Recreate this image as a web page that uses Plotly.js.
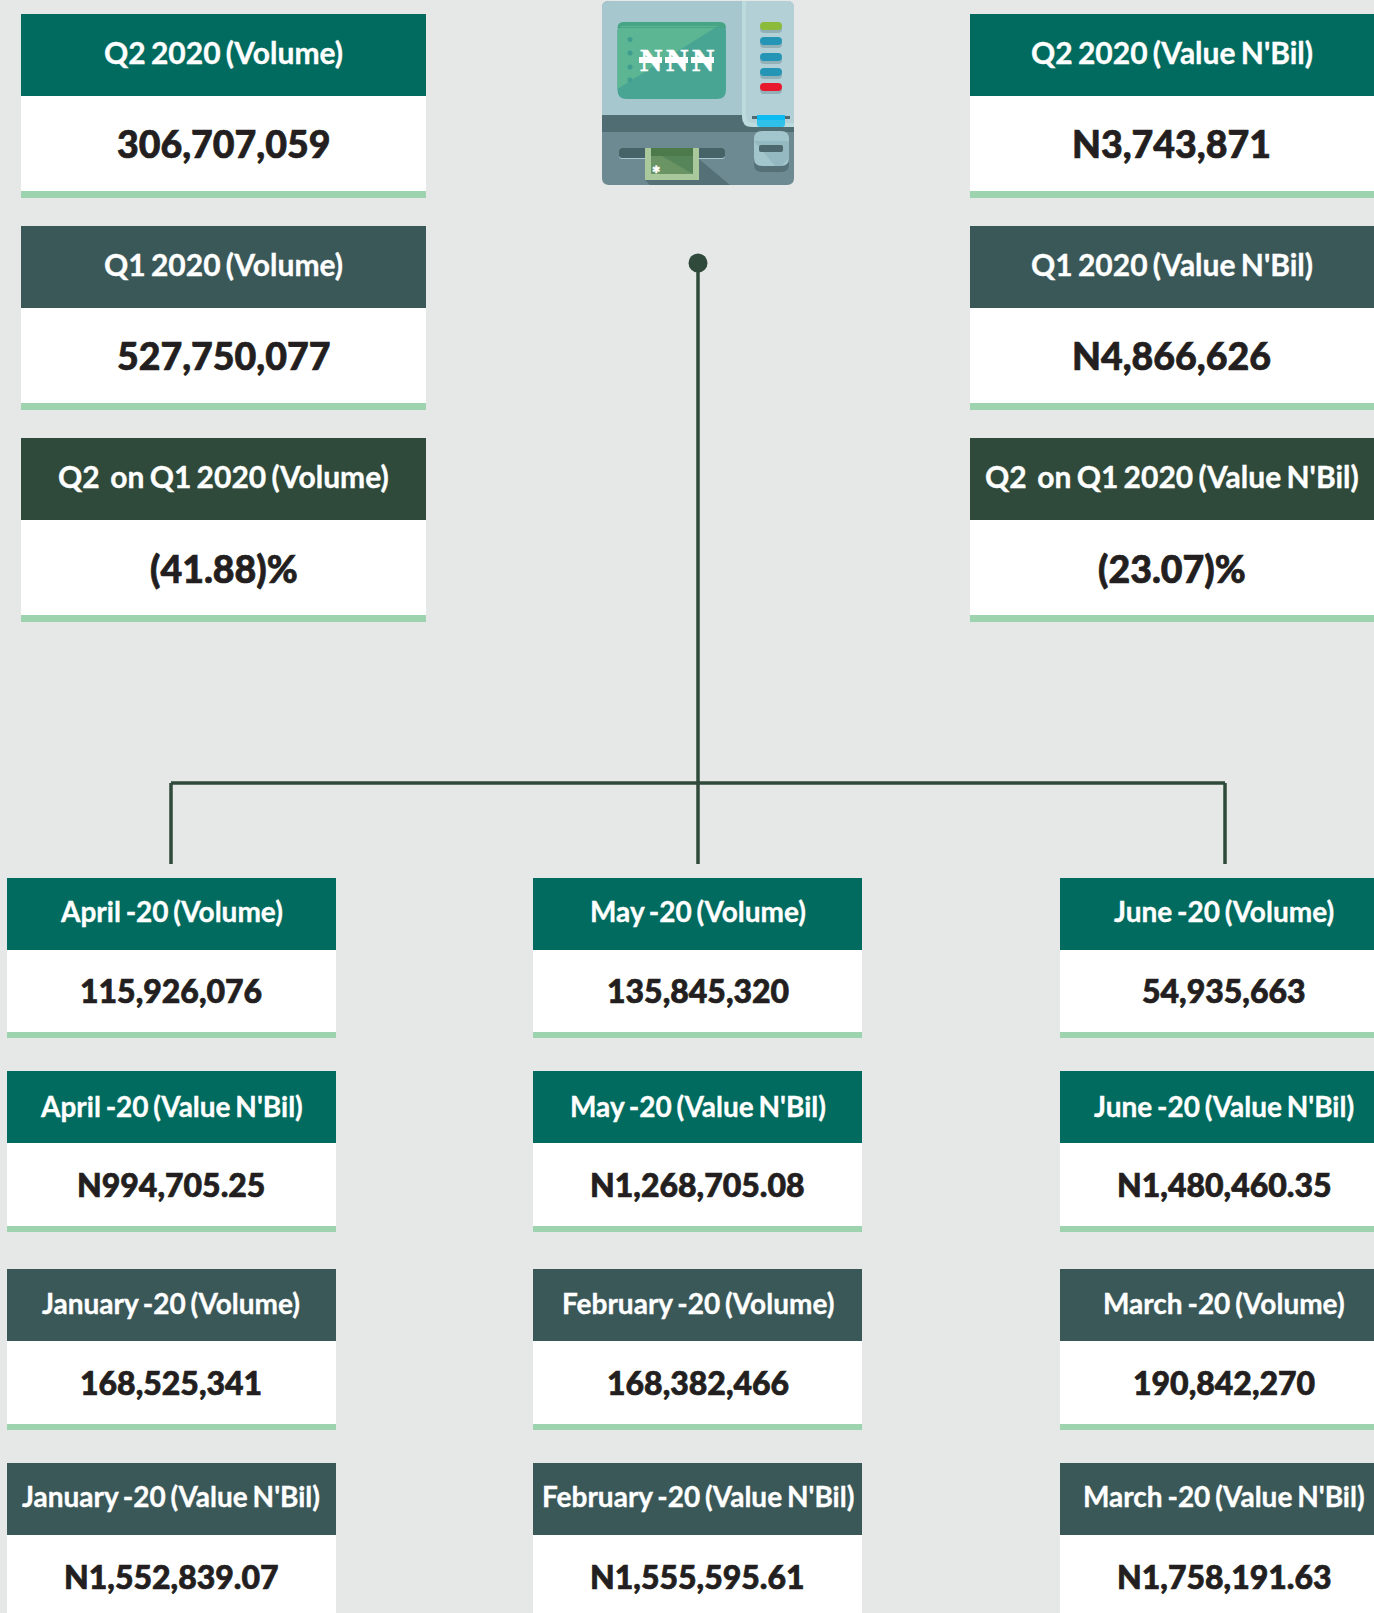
<!DOCTYPE html>
<html><head><meta charset="utf-8">
<script src="https://cdn.plot.ly/plotly-3.0.1.min.js"></script>
<style>html,body{margin:0;padding:0;background:#e6e8e7;overflow:hidden}
.annotation-text{word-spacing:-2px}</style>
</head><body><div id="chart" style="width:1374px;height:1613px"></div>
<script>
// ---- data ----
const topVolumeTitles = ["Q2 2020 (Volume)", "Q1 2020 (Volume)", "Q2\u00a0 on Q1 2020 (Volume)"];
const topVolumeValues = ["306,707,059", "527,750,077", "(41.88)%"];
const topValueTitles = ["Q2 2020 (Value N'Bil)", "Q1 2020 (Value N'Bil)", "Q2\u00a0 on Q1 2020 (Value N'Bil)"];
const topValueValues = ["N3,743,871", "N4,866,626", "(23.07)%"];
const col1Titles = ["April -20 (Volume)", "April -20 (Value N'Bil)", "January -20 (Volume)", "January -20 (Value N'Bil)"];
const col1Values = ["115,926,076", "N994,705.25", "168,525,341", "N1,552,839.07"];
const col2Titles = ["May -20 (Volume)", "May -20 (Value N'Bil)", "February -20 (Volume)", "February -20 (Value N'Bil)"];
const col2Values = ["135,845,320", "N1,268,705.08", "168,382,466", "N1,555,595.61"];
const col3Titles = ["June -20 (Volume)", "June -20 (Value N'Bil)", "March -20 (Volume)", "March -20 (Value N'Bil)"];
const col3Values = ["54,935,663", "N1,480,460.35", "190,842,270", "N1,758,191.63"];

// ---- layout constants ----
const W = 1374, H = 1613;
const C = {teal:'#006b5e', slate:'#3a5858', forest:'#2f4a3a', green:'#9dd3ae', bg:'#e6e8e7', ink:'#231f20', line:'#2f4a3a'};
const FONT = 'Lato, "Open Sans", sans-serif';
const shapes = [], annotations = [];

function rect(x0,y0,x1,y1,color){
  shapes.push({type:'rect',xref:'x',yref:'y',x0,y0,x1,y1,fillcolor:color,line:{width:0},layer:'above'});
}
function poly(points,color){
  shapes.push({type:'path',xref:'x',yref:'y',path:'M'+points.map(p=>p.join(',')).join('L')+'Z',fillcolor:color,line:{width:0},layer:'above'});
}
function round(x0,y0,x1,y1,tl,tr,br,bl,color){
  const p = `M${x0+tl},${y0}L${x1-tr},${y0}Q${x1},${y0} ${x1},${y0+tr}L${x1},${y1-br}Q${x1},${y1} ${x1-br},${y1}L${x0+bl},${y1}Q${x0},${y1} ${x0},${y1-bl}L${x0},${y0+tl}Q${x0},${y0} ${x0+tl},${y0}Z`;
  shapes.push({type:'path',xref:'x',yref:'y',path:p,fillcolor:color,line:{width:0},layer:'above'});
}
function seg(x0,y0,x1,y1){
  shapes.push({type:'line',xref:'x',yref:'y',x0,y0,x1,y1,line:{color:C.line,width:3.5},layer:'above'});
}
function label(x,y,text,size,color,family,weight){
  annotations.push({xref:'x',yref:'y',x,y,text,showarrow:false,xanchor:'center',yanchor:'middle',
    font:{family:family||FONT,size,color,weight:weight||400},borderpad:0});
}
function card(x0,x1,y0,y1,y2,y3,color,title,value,tSize,vSize,tDy,vDy,dx){
  rect(x0,y0,x1,y1,color);
  rect(x0,y1,x1,y2,'#ffffff');
  rect(x0,y2,x1,y3,C.green);
  const cx=(x0+x1)/2+dx;
  label(cx,(y0+y1)/2+tDy,title,tSize,'#ffffff',FONT,700);
  label(cx,(y1+y2)/2+vDy,value,vSize,C.ink,FONT,900);
}

// top cards
const topRows = [[14,96,191,198,C.teal,0],[226,308,403,410,C.slate,0],[438,520,615,622,C.forest,0.5]];
topRows.forEach((r,i)=>{
  card(21,426,r[0],r[1],r[2],r[3],r[4],topVolumeTitles[i],topVolumeValues[i],30,37.5,-3,r[5],0);
  card(970,1375,r[0],r[1],r[2],r[3],r[4],topValueTitles[i],topValueValues[i],30,37.5,-3,r[5],-1);
});
// bottom cards
const botRows = [[878,950,1032,1038,C.teal,-3,-0.5],[1071,1143,1226,1232,C.teal,-1.5,0],[1269,1341,1424,1430,C.slate,-2,0],[1463,1535,1640,1650,C.slate,-3,-11]];
[[7,336,col1Titles,col1Values,-0.5],[533,862,col2Titles,col2Values,0],[1060,1389,col3Titles,col3Values,-0.5]].forEach(c=>{
  botRows.forEach((r,i)=>{
    card(c[0],c[1],r[0],r[1],r[2],r[3],r[4],c[2][i],c[3][i],28,32,r[5],r[6],c[4]);
  });
});

// connectors
seg(698,263,698,864);
seg(171,783,1225,783);
seg(171,783,171,864);
seg(1225,783,1225,864);
shapes.push({type:'circle',xref:'x',yref:'y',x0:688.5,x1:707.5,y0:253.5,y1:272.5,fillcolor:C.line,line:{width:0},layer:'above'});

// ATM icon
round(602,1,794,185,7,7,7,7,'#6d8a92');
round(602,1,794,115,7,7,0,0,'#a7c7ce');
rect(602,115,794,132,'#506d73');
// right panel
round(742,1,794,127,0,7,0,10,'#bcdbdd');
round(746,1,794,123,0,7,0,8,'#b3d0d6');
// screen
round(617.5,22,726,99,9,9,9,9,'#49a593');
poly([[620,26],[718,26],[617.5,89],[617.5,30]],'#5cb593');
round(617.5,22,726,28,6,6,0,0,'#47a585');
poly([[622,26],[718,26],[716,27],[620,27]],'#5cb593');
[39.5,53,67,80].forEach(y=>shapes.push({type:'circle',xref:'x',yref:'y',x0:627.5,x1:632.5,y0:y-2.5,y1:y+2.5,fillcolor:'#3f9e90',line:{width:0},layer:'above'}));
[[650.5,639,662],[676.5,665,688],[702.5,691,714]].forEach(n=>{
  label(n[0],60,'N',31,'#ffffff','"Liberation Serif",serif',700);
  rect(n[1],57,n[2],63,'#ffffff');
});
// side buttons
[[22,'#8cbb3c'],[37,'#2595b5'],[53,'#2595b5'],[68,'#2595b5'],[83,'#e8192c']].forEach(b=>{
  round(760,b[0]+3,782,b[0]+11,4,4,4,4,'#92b0b8');
  round(760,b[0],782,b[0]+8,4,4,4,4,b[1]);
});
// card slot
rect(752,116,790,119,'#4e6a70');
round(757,115,785,127,0,0,3,3,'#2fc1ea');
rect(757,115,785,120,'#0bbcf2');
// cash shadow and note slot
poly([[699,159],[730,185],[650,185],[645,180],[699,180]],'#557076');
round(619,148,725,159,3,3,3,3,'#a7c7ce');
round(619,148,725,158,3,3,3,3,'#466367');
rect(645,148,699,180,'#a9c89c');
rect(651,148,693,174,'#6a9463');
poly([[662,156],[693,174],[693,156]],'#56855a');
rect(651,148,693,156,'#4d7a4a');
label(656,169,'\u2731',10,'#ffffff','"DejaVu Sans",sans-serif',400);
// cash box
round(754,137,789,172,8,8,8,8,'#557076');
round(754,131,789,166,8,8,8,8,'#a3c5cc');
poly([[754,141],[789,141],[789,158],[781,166],[775,166]],'#95b9c0');
round(759,145,783,152,2,2,2,2,'#4c686e');

Plotly.newPlot('chart',[{type:'scatter',x:[0,W],y:[0,H],mode:'none',hoverinfo:'skip',showlegend:false}],{
  width:W,height:H,margin:{l:0,r:0,t:0,b:0,pad:0},
  paper_bgcolor:C.bg,plot_bgcolor:C.bg,showlegend:false,
  xaxis:{range:[0,W],visible:false,fixedrange:true},
  yaxis:{range:[H,0],visible:false,fixedrange:true},
  shapes,annotations
},{displayModeBar:false,staticPlot:true}).then(()=>{
  // the reference lettering is a little heavier than Lato Bold
  document.querySelectorAll('.annotation-text').forEach(t=>{
    const isInk = t.style.fill.indexOf('35, 31, 32')>=0;
    t.style.stroke = t.style.fill;
    t.style.strokeWidth = isInk ? '0.7px' : '0.35px';
  });
});
</script></body></html>
